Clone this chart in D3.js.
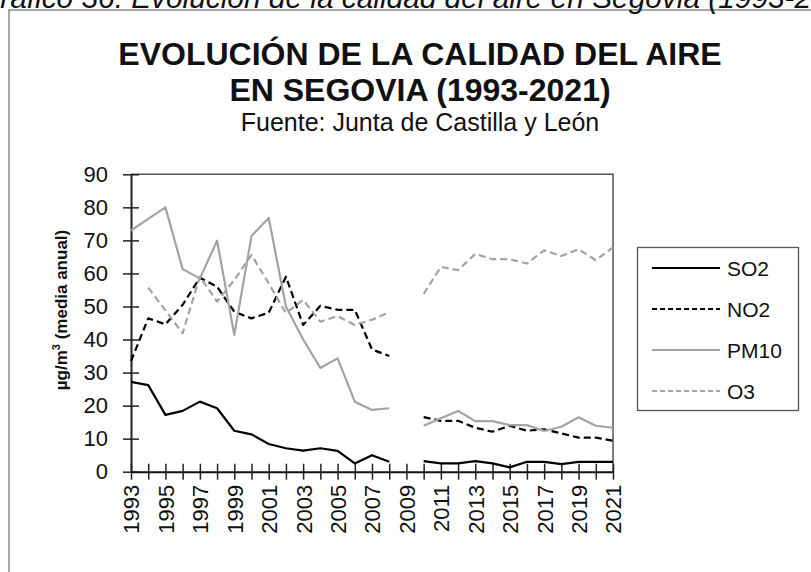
<!DOCTYPE html>
<html>
<head>
<meta charset="utf-8">
<script src="https://cdn.jsdelivr.net/npm/d3@7"></script>
<style>
  html, body { margin: 0; padding: 0; background: #fff; }
  svg { display: block; font-family: "Liberation Sans", Arial, sans-serif; }
</style>
</head>
<body>
<svg id="chart" width="811" height="572"></svg>
<script>
// ---- data ----
const years = d3.range(1993, 2022);
const tickLabels = [1993,1995,1997,1999,2001,2003,2005,2007,2009,2011,2013,2015,2017,2019,2021];
const yTicks = [0,10,20,30,40,50,60,70,80,90];
// null = no data
const so2  = [27.2,26.2,17.2,18.4,21.2,19.2,12.4,11.3,8.4,7.1,6.4,7.1,6.3,2.5,5,3, null, 3.2,2.5,2.5,3.2,2.5,1.3,3,3,2.3,3,3,3];
const no2  = [33.5,46.4,44.6,50.5,58.7,56,48.4,46.4,48.1,59,44.4,50.2,49,49,37,35, null, 16.5,15.4,15.4,13.3,12.1,13.9,12.4,12.8,11.6,10.3,10.3,9.4];
const pm10 = [73,76.5,80,61.3,58.5,69.9,41.4,71.3,76.8,50,40,31.4,34.3,21.2,18.7,19.2, null, 13.9,16.2,18.4,15.3,15.3,14.1,14.1,12.3,13.6,16.5,13.9,13.3];
const o3   = [null,55.7,48.8,41.9,59,51.5,58,65.6,57,48,52,45.4,47.1,44.4,46,48.2, null, 53.8,62,61,65.9,64.3,64.3,63,67,65.3,67.3,64,67.9];

const seriesNames = ["SO2","NO2","PM10","O3"];
const seriesData = [so2, no2, pm10, o3];
const seriesColor = ["#000000","#000000","#a3a3a3","#a3a3a3"];
const seriesDash  = [null,"7,4",null,"7,4"];

// ---- layout ----
const svg = d3.select("#chart");
const x = d3.scaleLinear().domain([1993, 2021]).range([131, 613]);
const y = d3.scaleLinear().domain([0, 90]).range([471.7, 174.3]);

// outer frame
svg.append("path").attr("d","M9,572 V10 H811").attr("fill","none").attr("stroke","#8a8a8a").attr("stroke-width",1.5);

// cut header (partly outside the page, as in the source)
function measure(str, size) {
  const t = svg.append("text").attr("font-size",size).attr("font-style","italic").text(str);
  const w = t.node().getComputedTextLength(); t.remove(); return w;
}
const visPart = "ráfico 36: Evolución de la calidad del aire en Segovia ";
const hdrPrefix = "G" + visPart;
const hs = 29 * 700 / measure(visPart, 29);
const hdr = svg.append("text").attr("y",8).attr("font-size",hs).attr("font-style","italic").attr("fill","#111");
hdr.attr("x", 700 - measure(hdrPrefix, hs)).text(hdrPrefix + "(1993-2021)");

// titles
svg.append("text").attr("x",420).attr("y",65).attr("text-anchor","middle").attr("font-size",32).attr("font-weight","bold").attr("fill","#111").text("EVOLUCIÓN DE LA CALIDAD DEL AIRE");
svg.append("text").attr("x",420).attr("y",101).attr("text-anchor","middle").attr("font-size",32).attr("font-weight","bold").attr("fill","#111").text("EN SEGOVIA (1993-2021)");
svg.append("text").attr("x",420).attr("y",131).attr("text-anchor","middle").attr("font-size",25).attr("fill","#111").text("Fuente: Junta de Castilla y León");

// plot box (top & right)
svg.append("path").attr("d",`M${x(1993)},${y(90)} H${x(2021)} V${y(0)}`).attr("fill","none").attr("stroke","#555").attr("stroke-width",1.5);

// y axis
const yAxis = d3.axisLeft(y).tickValues(yTicks).tickSize(8).tickSizeOuter(0).tickPadding(14);
const gy = svg.append("g").attr("transform",`translate(${x(1993)},0)`).call(yAxis);
gy.select(".domain").attr("stroke","#222").attr("stroke-width",2);
gy.selectAll(".tick line").attr("stroke","#222").attr("stroke-width",1.5).attr("x2",-8).attr("x1",8);
gy.selectAll(".tick text").attr("font-size",22).attr("fill","#111").attr("font-family","Liberation Sans, Arial, sans-serif").attr("x",-23);

// x axis
const xAxis = d3.axisBottom(x).tickValues(years).tickSize(8).tickSizeOuter(0).tickFormat(d => tickLabels.includes(d) ? d : "");
const gx = svg.append("g").attr("transform",`translate(0,${y(0)})`).call(xAxis);
gx.select(".domain").attr("stroke","#111").attr("stroke-width",2);
gx.selectAll(".tick line").attr("stroke","#222").attr("stroke-width",1.5).attr("y1",-8).attr("y2",8);
gx.selectAll(".tick text")
  .attr("font-size",22).attr("fill","#111").attr("font-family","Liberation Sans, Arial, sans-serif")
  .attr("transform","rotate(-90)").attr("text-anchor","end")
  .attr("x",-13).attr("y",0).attr("dy","0.36em");

// y label
const yl = svg.append("text").attr("transform","translate(67,310) rotate(-90)").attr("text-anchor","middle")
  .attr("font-size",17).attr("font-weight","bold").attr("fill","#111");
yl.append("tspan").text("µg/m");
yl.append("tspan").attr("font-size",11).attr("dy",-7).text("3");
yl.append("tspan").attr("dy",7).text(" (media anual)");

// lines
const line = d3.line().defined(d => d.v !== null).x(d => x(d.year)).y(d => y(d.v));
seriesData.forEach((arr, i) => {
  const pts = years.map((yr, j) => ({year: yr, v: arr[j]}));
  svg.append("path").datum(pts).attr("d", line).attr("fill","none")
    .attr("stroke", seriesColor[i]).attr("stroke-width", 2.2)
    .attr("stroke-dasharray", seriesDash[i]).attr("stroke-linejoin","round");
});

// legend
svg.append("rect").attr("x",637.5).attr("y",247.5).attr("width",161).attr("height",163)
  .attr("fill","#fff").attr("stroke","#555").attr("stroke-width",1.3);
const lg = svg.append("g");
seriesNames.forEach((name, i) => {
  const ly = 268 + i * 41;
  lg.append("line").attr("x1",652).attr("x2",720).attr("y1",ly).attr("y2",ly)
    .attr("stroke",seriesColor[i]).attr("stroke-width",2).attr("stroke-dasharray",i % 2 ? "5,3" : null);
  lg.append("text").attr("x",727).attr("y",ly).attr("dy","0.36em").attr("font-size",21).attr("fill","#111").text(name);
});
</script>
</body>
</html>
